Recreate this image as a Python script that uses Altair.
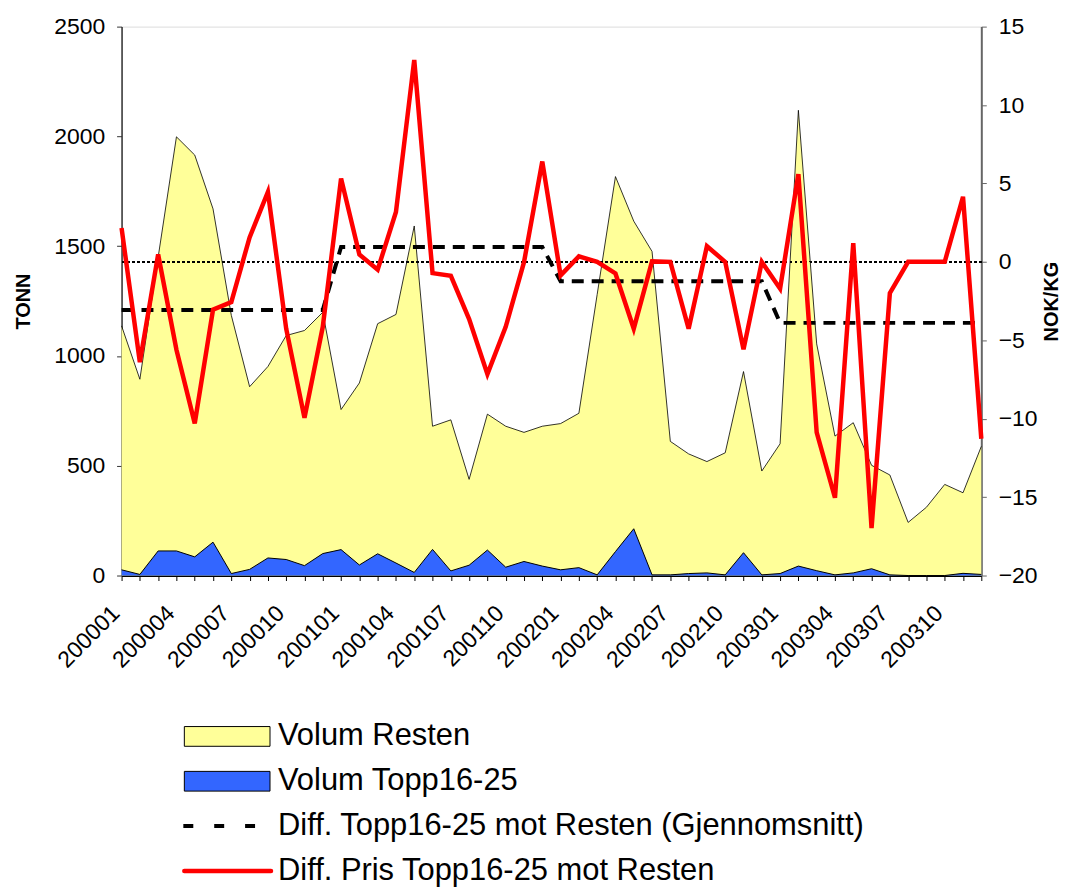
import altair as alt
import pandas as pd

FONT = "Liberation Sans"

months = [
    "200001", "200002", "200003", "200004", "200005", "200006", "200007", "200008", "200009", "200010", "200011", "200012",
    "200101", "200102", "200103", "200104", "200105", "200106", "200107", "200108", "200109", "200110", "200111", "200112",
    "200201", "200202", "200203", "200204", "200205", "200206", "200207", "200208", "200209", "200210", "200211", "200212",
    "200301", "200302", "200303", "200304", "200305", "200306", "200307", "200308", "200309", "200310", "200311", "200312",
]

volum_resten = [
    1137, 894, 1450, 1998, 1915, 1670, 1185, 860, 952, 1093, 1116, 1199,
    756, 877, 1147, 1189, 1592, 680, 709, 438, 735, 680, 652, 680,
    692, 739, 1280, 1817, 1614, 1476, 611, 554, 519, 559, 929, 476,
    600, 2119, 1055, 635, 696, 502, 458, 242, 311, 415, 377, 588,
]

volum_topp = [
    26, 5, 112, 112, 85, 152, 9, 28, 80, 73, 45, 100,
    118, 48, 99, 57, 14, 119, 21, 47, 116, 38, 64, 43,
    26, 36, 3, 109, 213, 3, 3, 9, 12, 3, 104, 3,
    9, 43, 22, 3, 12, 31, 3, 0, 0, 0, 10, 5,
]

diff_snitt = [
    -3.07, -3.07, -3.07, -3.07, -3.07, -3.07, -3.07, -3.07, -3.07, -3.07, -3.07, -3.07,
    0.95, 0.95, 0.95, 0.95, 0.95, 0.95, 0.95, 0.95, 0.95, 0.95, 0.95, 0.95,
    -1.23, -1.23, -1.23, -1.23, -1.23, -1.23, -1.23, -1.23, -1.23, -1.23, -1.23, -1.23,
    -3.89, -3.89, -3.89, -3.89, -3.89, -3.89, -3.89, -3.89, -3.89, -3.89, -3.89, -3.89,
]

diff_pris = [
    2.16, -6.4, 0.47, -5.6, -10.3, -3.05, -2.56, 1.56, 4.46, -4.26, -9.95, -4.14,
    5.31, 0.47, -0.5, 3.18, 12.87, -0.72, -0.89, -3.65, -7.16, -4.14, -0.02, 6.4,
    -0.86, 0.35, 0.0, -0.74, -4.26, 0.03, 0.0, -4.26, 1.0, 0.0, -5.58, 0.0,
    -1.71, 5.6, -10.87, -15.04, 1.19, -16.97, -2.0, 0.0, 0.0, 0.0, 4.15, -11.28,
]

legend_labels = [
    "Volum Resten",
    "Volum Topp16-25",
    "Diff. Topp16-25 mot Resten (Gjennomsnitt)",
    "Diff. Pris Topp16-25 mot Resten",
]
legend_kinds = ["resten", "topp", "snitt", "pris"]

left_ticks = [0, 500, 1000, 1500, 2000, 2500]
right_ticks = [-20, -15, -10, -5, 0, 5, 10, 15]

df = pd.DataFrame({
    "month": months,
    "resten": volum_resten,
    "topp": volum_topp,
    "snitt": diff_snitt,
    "pris": diff_pris,
})

x_enc = alt.X(
    "month:O",
    sort=months,
    scale=alt.Scale(type="point", padding=0),
    axis=alt.Axis(
        title=None,
        labelAngle=315,
        labelAlign="right",
        labelBaseline="middle",
        labelExpr="indexof(['01','04','07','10'], slice(datum.value, 4)) >= 0 ? datum.value : ''",
        labelFont=FONT,
        labelFontSize=23,
        labelColor="black",
        labelPadding=29,
        labelOffset=-6,
        labelOverlap=False,
        tickSize=5,
        tickColor="black",
        domainColor="black",
        domainWidth=2,
    ),
)

left_axis = alt.Axis(
    title="TONN",
    values=left_ticks,
    format="d",
    grid=False,
    labelFont=FONT,
    labelFontSize=23,
    labelColor="black",
    labelPadding=12,
    tickSize=5,
    tickColor="#333333",
    domainColor="#333333",
    domainWidth=1.5,
    titleFont=FONT,
    titleFontSize=20,
    titleFontWeight="bold",
    titleColor="black",
    titlePadding=20,
)
left_scale = alt.Scale(domain=[0, 2500], nice=False)

right_axis = alt.Axis(
    title="NOK/KG",
    orient="right",
    values=right_ticks,
    grid=False,
    labelFont=FONT,
    labelFontSize=23,
    labelColor="black",
    labelPadding=12,
    tickSize=5,
    tickColor="#666666",
    domainColor="#666666",
    domainWidth=2,
    titleFont=FONT,
    titleFontSize=20,
    titleFontWeight="bold",
    titleColor="black",
    titleAngle=270,
    titlePadding=24,
)
right_scale = alt.Scale(domain=[-20, 15], nice=False)

base = alt.Chart(df)

area_resten = base.mark_area(
    color="#FFFF99", opacity=1, line={"color": "black", "strokeWidth": 0.8}
).encode(x=x_enc, y=alt.Y("resten:Q", scale=left_scale, axis=left_axis))

area_topp = base.mark_area(
    color="#3366FF", opacity=1, line={"color": "black", "strokeWidth": 1}
).encode(x=x_enc, y=alt.Y("topp:Q", scale=left_scale, axis=left_axis))

zero_rule = base.mark_rule(color="black", strokeWidth=1.2, strokeDash=[2, 3]).encode(
    y=alt.Y(datum=0, scale=right_scale, axis=right_axis)
)

line_snitt = base.mark_line(color="black", strokeWidth=4, strokeDash=[12, 8]).encode(
    x=x_enc, y=alt.Y("snitt:Q", scale=right_scale, axis=right_axis)
)

line_pris = base.mark_line(color="#FF0000", strokeWidth=4.5).encode(
    x=x_enc, y=alt.Y("pris:Q", scale=right_scale, axis=right_axis)
)

top = alt.layer(
    alt.layer(area_resten, area_topp),
    alt.layer(zero_rule, line_snitt, line_pris),
).resolve_scale(y="independent").properties(width=863, height=551)

# ---- manual legend ----
leg_df = pd.DataFrame({"label": legend_labels, "kind": legend_kinds, "row": [0, 1, 2, 3]})
leg_base = alt.Chart(leg_df).transform_calculate(lo="datum.row - 0.22", hi="datum.row + 0.22")
ys = alt.Scale(domain=[-0.5, 3.5], reverse=True)

SX0, SX1 = 63, 149

leg_rect_resten = leg_base.transform_filter("datum.kind == 'resten'").mark_rect(
    fill="#FFFF99", stroke="black", strokeWidth=1
).encode(x=alt.value(SX0), x2=alt.value(SX1), y=alt.Y("lo:Q", scale=ys, axis=None), y2="hi:Q")

leg_rect_topp = leg_base.transform_filter("datum.kind == 'topp'").mark_rect(
    fill="#3366FF", stroke="black", strokeWidth=1
).encode(x=alt.value(SX0), x2=alt.value(SX1), y=alt.Y("lo:Q", scale=ys, axis=None), y2="hi:Q")

leg_dash = leg_base.transform_filter("datum.kind == 'snitt'").mark_rule(
    color="black", strokeWidth=4, strokeDash=[10, 21]
).encode(x=alt.value(SX0 - 1), x2=alt.value(SX1 - 14), y=alt.Y("row:Q", scale=ys, axis=None))

leg_red = leg_base.transform_filter("datum.kind == 'pris'").mark_rule(
    color="#FF0000", strokeWidth=4.5, strokeCap="round"
).encode(x=alt.value(SX0), x2=alt.value(SX1 + 1), y=alt.Y("row:Q", scale=ys, axis=None))

leg_text = leg_base.mark_text(align="left", baseline="middle", font=FONT, fontSize=31, color="black").encode(
    x=alt.value(SX1 + 8), y=alt.Y("row:Q", scale=ys, axis=None), text="label:N"
)

legend = alt.layer(leg_rect_resten, leg_rect_topp, leg_dash, leg_red, leg_text).properties(
    width=880, height=180, view=alt.ViewBackground(stroke="transparent")
)

chart = alt.vconcat(top, legend, spacing=40).properties(
    padding={"left": 5, "top": 5, "right": 0, "bottom": 0}
).configure_view(stroke="#8c8c8c", strokeWidth=1.5).configure(background="white")

chart.save("out.html", embed_options={"renderer": "svg", "actions": False})
